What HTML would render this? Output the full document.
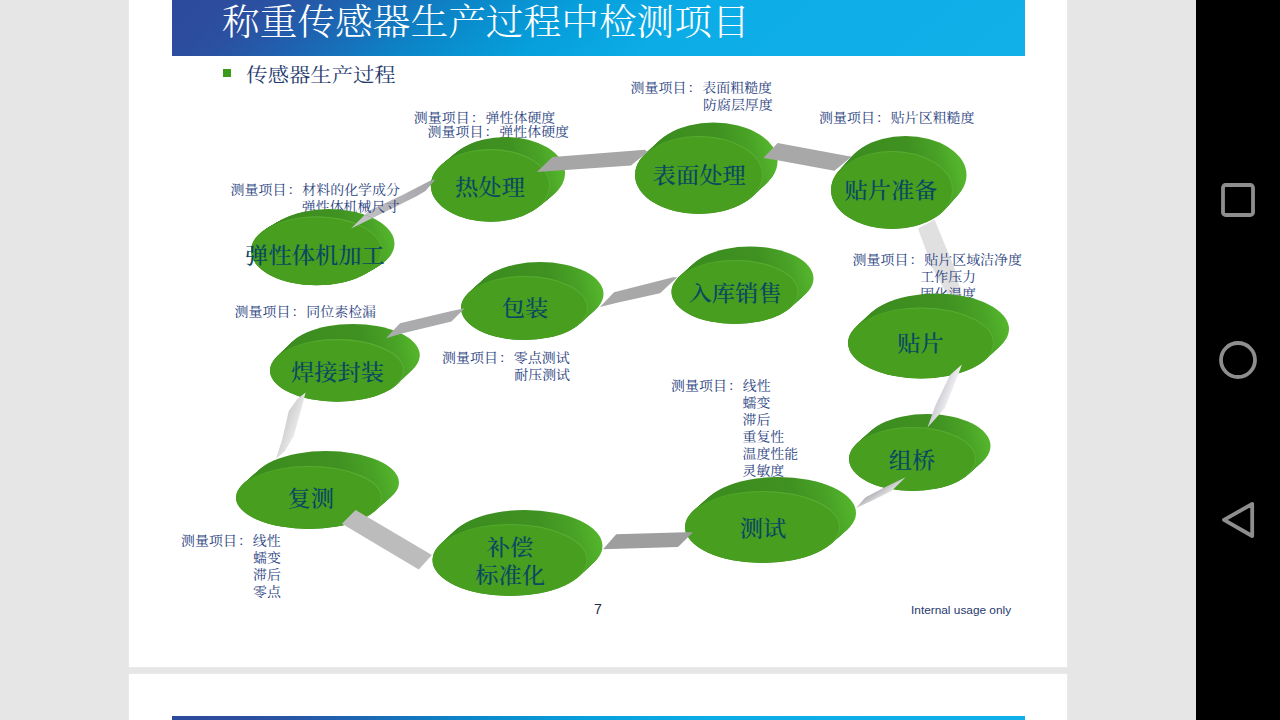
<!DOCTYPE html>
<html lang="zh-CN"><head><meta charset="utf-8"><title>称重传感器生产过程中检测项目</title>
<style>
html,body{margin:0;padding:0}
:root{--sy:0.91}
body{width:1280px;height:720px;overflow:hidden;position:relative;background:#e6e6e6;font-family:"Liberation Serif","Noto Serif CJK SC",serif}
.page{position:absolute;left:129px;top:0;width:938px;height:667px;background:#fff;box-shadow:0 0 1.5px #f4f4f4}
.page2{position:absolute;left:129px;top:674px;width:938px;height:60px;background:#fff;box-shadow:0 0 1.5px #f4f4f4}
.hdr{position:absolute;left:171.5px;top:0;width:853.5px;height:56.4px;background:linear-gradient(140.2deg,#2c4a9c 0%,#2d4c9e 6.3%,#2a52a2 11.8%,#1f62b0 19.2%,#0b86c8 32.2%,#06a0dc 45.2%,#0cace7 58.1%,#12b0e9 100%)}
.hdr2{position:absolute;left:171.5px;top:716px;width:853.5px;height:56.4px;background:linear-gradient(140.2deg,#2c4a9c 0%,#2d4c9e 6.3%,#2a52a2 11.8%,#1f62b0 19.2%,#0b86c8 32.2%,#06a0dc 45.2%,#0cace7 58.1%,#12b0e9 100%)}
.title{transform:scaleY(0.95);position:absolute;left:222px;top:-3.8px;font-size:37.7px;line-height:54px;color:#fff;white-space:nowrap;font-weight:300}
.bullet{position:absolute;left:223px;top:69px;width:8px;height:8px;background:#3a9a1c}
.sub{transform:scaleY(var(--sy));position:absolute;left:246.3px;top:61.6px;font-size:21.35px;line-height:28px;color:#1f3a6e;white-space:nowrap}
.nav{position:absolute;left:1196px;top:0;width:84px;height:720px;background:#000}
.dia{position:absolute;left:0;top:0}
.dl{position:absolute;font-size:23.3px;line-height:30px;height:30px;color:#094862;font-weight:500;white-space:nowrap;transform:translate(-50%,-50%) scaleY(var(--sy))}
.ml{transform:scaleY(var(--sy));position:absolute;font-size:13.95px;line-height:17px;color:#283e7e;white-space:nowrap}
.cg{margin-left:1.2px;margin-right:0.9px}
.pn{position:absolute;left:594px;top:601px;font:14.2px/16px "Liberation Sans",sans-serif;color:#1c2d45}
.iuo{transform:scaleY(0.95);transform-origin:50% 85%;position:absolute;left:911px;top:602.5px;font:11.85px/14px "Liberation Sans",sans-serif;color:#1f3a6e;white-space:nowrap}
</style></head><body>
<div class="page"></div><div class="page2"></div>
<div class="hdr"></div><div class="hdr2"></div>
<div class="title">称重传感器生产过程中检测项目</div>
<div class="bullet"></div><div class="sub">传感器生产过程</div>

<svg class="dia" width="1280" height="720" viewBox="0 0 1280 720">
<polygon points="918,228.5 934.5,219.5 954,267 962,296 948,296 932,267" fill="#e0e0e0"/>
<linearGradient id="ag1" gradientUnits="userSpaceOnUse" x1="351" y1="228" x2="432" y2="181"><stop offset="0" stop-color="#c8c8ca"/><stop offset="1" stop-color="#a4a4aa"/></linearGradient><polygon points="351,228.5 369,210.8 402.5,195 430.6,180.6 435.3,179.6 425.4,191 417,196 387,211" fill="url(#ag1)"/>
</svg>
<div class="ml" style="left:230.60px;top:181.20px">测量项目<span class="cg">：</span>材料的化学成分</div>
<div class="ml" style="left:301.80px;top:198.20px">弹性体机械尺寸</div>
<div class="ml" style="left:413.85px;top:109.30px">测量项目<span class="cg">：</span>弹性体硬度</div>
<div class="ml" style="left:427.60px;top:123.30px">测量项目<span class="cg">：</span>弹性体硬度</div>
<div class="ml" style="left:630.60px;top:78.80px">测量项目<span class="cg">：</span>表面粗糙度</div>
<div class="ml" style="left:703.05px;top:95.80px">防腐层厚度</div>
<div class="ml" style="left:819.10px;top:108.80px">测量项目<span class="cg">：</span>贴片区粗糙度</div>
<div class="ml" style="left:852.60px;top:251.00px">测量项目<span class="cg">：</span>贴片区域洁净度</div>
<div class="ml" style="left:920.30px;top:268.00px">工作压力</div>
<div class="ml" style="left:920.30px;top:285.00px">固化温度</div>
<div class="ml" style="left:234.60px;top:302.80px">测量项目<span class="cg">：</span>同位素检漏</div>
<div class="ml" style="left:442.10px;top:348.80px">测量项目<span class="cg">：</span>零点测试</div>
<div class="ml" style="left:514.30px;top:365.80px">耐压测试</div>
<div class="ml" style="left:671.10px;top:376.80px">测量项目<span class="cg">：</span>线性</div>
<div class="ml" style="left:742.50px;top:393.80px">蠕变</div>
<div class="ml" style="left:742.50px;top:410.80px">滞后</div>
<div class="ml" style="left:742.50px;top:427.80px">重复性</div>
<div class="ml" style="left:742.50px;top:444.80px">温度性能</div>
<div class="ml" style="left:742.50px;top:461.80px">灵敏度</div>
<div class="ml" style="left:181.10px;top:532.40px">测量项目<span class="cg">：</span>线性</div>
<div class="ml" style="left:253.05px;top:549.40px">蠕变</div>
<div class="ml" style="left:253.05px;top:566.40px">滞后</div>
<div class="ml" style="left:253.05px;top:583.40px">零点</div>
<svg class="dia" width="1280" height="720" viewBox="0 0 1280 720">
<linearGradient id="hl" x1="0" y1="1" x2="1" y2="0"><stop offset="0.5" stop-color="#62b63c" stop-opacity="0"/><stop offset="0.72" stop-color="#62b63c" stop-opacity="0.55"/><stop offset="1" stop-color="#62b63c" stop-opacity="0.7"/></linearGradient>
<linearGradient id="gd1" gradientUnits="userSpaceOnUse" x1="251.0" y1="285.3" x2="394.5" y2="249.4"><stop offset="0" stop-color="#3a8a1e"/><stop offset="0.68" stop-color="#3f9121"/><stop offset="0.88" stop-color="#49a326"/><stop offset="1" stop-color="#54b42c"/></linearGradient>
<ellipse cx="329.00" cy="243.60" rx="65.5" ry="34.5" fill="url(#gd1)"/>
<ellipse cx="327.96" cy="244.20" rx="65.5" ry="34.5" fill="url(#gd1)"/>
<ellipse cx="326.92" cy="244.80" rx="65.5" ry="34.5" fill="url(#gd1)"/>
<ellipse cx="325.88" cy="245.40" rx="65.5" ry="34.5" fill="url(#gd1)"/>
<ellipse cx="324.83" cy="246.00" rx="65.5" ry="34.5" fill="url(#gd1)"/>
<ellipse cx="323.79" cy="246.60" rx="65.5" ry="34.5" fill="url(#gd1)"/>
<ellipse cx="322.75" cy="247.20" rx="65.5" ry="34.5" fill="url(#gd1)"/>
<ellipse cx="321.71" cy="247.80" rx="65.5" ry="34.5" fill="url(#gd1)"/>
<ellipse cx="320.67" cy="248.40" rx="65.5" ry="34.5" fill="url(#gd1)"/>
<ellipse cx="319.62" cy="249.00" rx="65.5" ry="34.5" fill="url(#gd1)"/>
<ellipse cx="318.58" cy="249.60" rx="65.5" ry="34.5" fill="url(#gd1)"/>
<ellipse cx="317.54" cy="250.20" rx="65.5" ry="34.5" fill="url(#gd1)"/>
<ellipse cx="316.50" cy="250.80" rx="65.5" ry="34.5" fill="url(#gd1)"/>
<ellipse cx="316.5" cy="250.8" rx="65.5" ry="34.5" fill="#479e1f"/>
<ellipse cx="316.5" cy="250.8" rx="65.0" ry="34.0" fill="none" stroke="url(#hl)" stroke-width="1.2"/>
<linearGradient id="gd2" gradientUnits="userSpaceOnUse" x1="430.8" y1="221.7" x2="565.0" y2="188.1"><stop offset="0" stop-color="#3a8a1e"/><stop offset="0.68" stop-color="#3f9121"/><stop offset="0.88" stop-color="#49a326"/><stop offset="1" stop-color="#54b42c"/></linearGradient>
<ellipse cx="505.40" cy="173.20" rx="59.6" ry="36.3" fill="url(#gd2)"/>
<ellipse cx="504.15" cy="174.22" rx="59.6" ry="36.3" fill="url(#gd2)"/>
<ellipse cx="502.90" cy="175.23" rx="59.6" ry="36.3" fill="url(#gd2)"/>
<ellipse cx="501.65" cy="176.25" rx="59.6" ry="36.3" fill="url(#gd2)"/>
<ellipse cx="500.40" cy="177.27" rx="59.6" ry="36.3" fill="url(#gd2)"/>
<ellipse cx="499.15" cy="178.28" rx="59.6" ry="36.3" fill="url(#gd2)"/>
<ellipse cx="497.90" cy="179.30" rx="59.6" ry="36.3" fill="url(#gd2)"/>
<ellipse cx="496.65" cy="180.32" rx="59.6" ry="36.3" fill="url(#gd2)"/>
<ellipse cx="495.40" cy="181.33" rx="59.6" ry="36.3" fill="url(#gd2)"/>
<ellipse cx="494.15" cy="182.35" rx="59.6" ry="36.3" fill="url(#gd2)"/>
<ellipse cx="492.90" cy="183.37" rx="59.6" ry="36.3" fill="url(#gd2)"/>
<ellipse cx="491.65" cy="184.38" rx="59.6" ry="36.3" fill="url(#gd2)"/>
<ellipse cx="490.40" cy="185.40" rx="59.6" ry="36.3" fill="url(#gd2)"/>
<ellipse cx="490.4" cy="185.4" rx="59.6" ry="36.3" fill="#479e1f"/>
<ellipse cx="490.4" cy="185.4" rx="59.1" ry="35.8" fill="none" stroke="url(#hl)" stroke-width="1.2"/>
<linearGradient id="gd3" gradientUnits="userSpaceOnUse" x1="635.0" y1="214.0" x2="777.5" y2="178.4"><stop offset="0" stop-color="#3a8a1e"/><stop offset="0.68" stop-color="#3f9121"/><stop offset="0.88" stop-color="#49a326"/><stop offset="1" stop-color="#54b42c"/></linearGradient>
<ellipse cx="713.50" cy="161.50" rx="64" ry="39" fill="url(#gd3)"/>
<ellipse cx="712.29" cy="162.62" rx="64" ry="39" fill="url(#gd3)"/>
<ellipse cx="711.08" cy="163.75" rx="64" ry="39" fill="url(#gd3)"/>
<ellipse cx="709.88" cy="164.88" rx="64" ry="39" fill="url(#gd3)"/>
<ellipse cx="708.67" cy="166.00" rx="64" ry="39" fill="url(#gd3)"/>
<ellipse cx="707.46" cy="167.12" rx="64" ry="39" fill="url(#gd3)"/>
<ellipse cx="706.25" cy="168.25" rx="64" ry="39" fill="url(#gd3)"/>
<ellipse cx="705.04" cy="169.38" rx="64" ry="39" fill="url(#gd3)"/>
<ellipse cx="703.83" cy="170.50" rx="64" ry="39" fill="url(#gd3)"/>
<ellipse cx="702.62" cy="171.62" rx="64" ry="39" fill="url(#gd3)"/>
<ellipse cx="701.42" cy="172.75" rx="64" ry="39" fill="url(#gd3)"/>
<ellipse cx="700.21" cy="173.88" rx="64" ry="39" fill="url(#gd3)"/>
<ellipse cx="699.00" cy="175.00" rx="64" ry="39" fill="url(#gd3)"/>
<ellipse cx="699" cy="175" rx="64" ry="39" fill="#479e1f"/>
<ellipse cx="699" cy="175" rx="63.5" ry="38.5" fill="none" stroke="url(#hl)" stroke-width="1.2"/>
<linearGradient id="gd4" gradientUnits="userSpaceOnUse" x1="831.0" y1="229.0" x2="966.5" y2="195.1"><stop offset="0" stop-color="#3a8a1e"/><stop offset="0.68" stop-color="#3f9121"/><stop offset="0.88" stop-color="#49a326"/><stop offset="1" stop-color="#54b42c"/></linearGradient>
<ellipse cx="905.50" cy="175.00" rx="61" ry="39" fill="url(#gd4)"/>
<ellipse cx="904.38" cy="176.25" rx="61" ry="39" fill="url(#gd4)"/>
<ellipse cx="903.25" cy="177.50" rx="61" ry="39" fill="url(#gd4)"/>
<ellipse cx="902.12" cy="178.75" rx="61" ry="39" fill="url(#gd4)"/>
<ellipse cx="901.00" cy="180.00" rx="61" ry="39" fill="url(#gd4)"/>
<ellipse cx="899.88" cy="181.25" rx="61" ry="39" fill="url(#gd4)"/>
<ellipse cx="898.75" cy="182.50" rx="61" ry="39" fill="url(#gd4)"/>
<ellipse cx="897.62" cy="183.75" rx="61" ry="39" fill="url(#gd4)"/>
<ellipse cx="896.50" cy="185.00" rx="61" ry="39" fill="url(#gd4)"/>
<ellipse cx="895.38" cy="186.25" rx="61" ry="39" fill="url(#gd4)"/>
<ellipse cx="894.25" cy="187.50" rx="61" ry="39" fill="url(#gd4)"/>
<ellipse cx="893.12" cy="188.75" rx="61" ry="39" fill="url(#gd4)"/>
<ellipse cx="892.00" cy="190.00" rx="61" ry="39" fill="url(#gd4)"/>
<ellipse cx="892" cy="190" rx="61" ry="39" fill="#479e1f"/>
<ellipse cx="892" cy="190" rx="60.5" ry="38.5" fill="none" stroke="url(#hl)" stroke-width="1.2"/>
<linearGradient id="gd5" gradientUnits="userSpaceOnUse" x1="848.0" y1="378.5" x2="1009.0" y2="338.2"><stop offset="0" stop-color="#3a8a1e"/><stop offset="0.68" stop-color="#3f9121"/><stop offset="0.88" stop-color="#49a326"/><stop offset="1" stop-color="#54b42c"/></linearGradient>
<ellipse cx="936.00" cy="329.00" rx="73" ry="35.5" fill="url(#gd5)"/>
<ellipse cx="934.75" cy="330.17" rx="73" ry="35.5" fill="url(#gd5)"/>
<ellipse cx="933.50" cy="331.33" rx="73" ry="35.5" fill="url(#gd5)"/>
<ellipse cx="932.25" cy="332.50" rx="73" ry="35.5" fill="url(#gd5)"/>
<ellipse cx="931.00" cy="333.67" rx="73" ry="35.5" fill="url(#gd5)"/>
<ellipse cx="929.75" cy="334.83" rx="73" ry="35.5" fill="url(#gd5)"/>
<ellipse cx="928.50" cy="336.00" rx="73" ry="35.5" fill="url(#gd5)"/>
<ellipse cx="927.25" cy="337.17" rx="73" ry="35.5" fill="url(#gd5)"/>
<ellipse cx="926.00" cy="338.33" rx="73" ry="35.5" fill="url(#gd5)"/>
<ellipse cx="924.75" cy="339.50" rx="73" ry="35.5" fill="url(#gd5)"/>
<ellipse cx="923.50" cy="340.67" rx="73" ry="35.5" fill="url(#gd5)"/>
<ellipse cx="922.25" cy="341.83" rx="73" ry="35.5" fill="url(#gd5)"/>
<ellipse cx="921.00" cy="343.00" rx="73" ry="35.5" fill="url(#gd5)"/>
<ellipse cx="921" cy="343" rx="73" ry="35.5" fill="#479e1f"/>
<ellipse cx="921" cy="343" rx="72.5" ry="35.0" fill="none" stroke="url(#hl)" stroke-width="1.2"/>
<linearGradient id="gd6" gradientUnits="userSpaceOnUse" x1="849.0" y1="491.0" x2="990.5" y2="455.6"><stop offset="0" stop-color="#3a8a1e"/><stop offset="0.68" stop-color="#3f9121"/><stop offset="0.88" stop-color="#49a326"/><stop offset="1" stop-color="#54b42c"/></linearGradient>
<ellipse cx="927.00" cy="446.00" rx="63.5" ry="32" fill="url(#gd6)"/>
<ellipse cx="925.79" cy="447.08" rx="63.5" ry="32" fill="url(#gd6)"/>
<ellipse cx="924.58" cy="448.17" rx="63.5" ry="32" fill="url(#gd6)"/>
<ellipse cx="923.38" cy="449.25" rx="63.5" ry="32" fill="url(#gd6)"/>
<ellipse cx="922.17" cy="450.33" rx="63.5" ry="32" fill="url(#gd6)"/>
<ellipse cx="920.96" cy="451.42" rx="63.5" ry="32" fill="url(#gd6)"/>
<ellipse cx="919.75" cy="452.50" rx="63.5" ry="32" fill="url(#gd6)"/>
<ellipse cx="918.54" cy="453.58" rx="63.5" ry="32" fill="url(#gd6)"/>
<ellipse cx="917.33" cy="454.67" rx="63.5" ry="32" fill="url(#gd6)"/>
<ellipse cx="916.12" cy="455.75" rx="63.5" ry="32" fill="url(#gd6)"/>
<ellipse cx="914.92" cy="456.83" rx="63.5" ry="32" fill="url(#gd6)"/>
<ellipse cx="913.71" cy="457.92" rx="63.5" ry="32" fill="url(#gd6)"/>
<ellipse cx="912.50" cy="459.00" rx="63.5" ry="32" fill="url(#gd6)"/>
<ellipse cx="912.5" cy="459" rx="63.5" ry="32" fill="#479e1f"/>
<ellipse cx="912.5" cy="459" rx="63.0" ry="31.5" fill="none" stroke="url(#hl)" stroke-width="1.2"/>
<linearGradient id="gd7" gradientUnits="userSpaceOnUse" x1="685.0" y1="563.0" x2="856.0" y2="520.2"><stop offset="0" stop-color="#3a8a1e"/><stop offset="0.68" stop-color="#3f9121"/><stop offset="0.88" stop-color="#49a326"/><stop offset="1" stop-color="#54b42c"/></linearGradient>
<ellipse cx="778.50" cy="513.00" rx="77.5" ry="36" fill="url(#gd7)"/>
<ellipse cx="777.17" cy="514.17" rx="77.5" ry="36" fill="url(#gd7)"/>
<ellipse cx="775.83" cy="515.33" rx="77.5" ry="36" fill="url(#gd7)"/>
<ellipse cx="774.50" cy="516.50" rx="77.5" ry="36" fill="url(#gd7)"/>
<ellipse cx="773.17" cy="517.67" rx="77.5" ry="36" fill="url(#gd7)"/>
<ellipse cx="771.83" cy="518.83" rx="77.5" ry="36" fill="url(#gd7)"/>
<ellipse cx="770.50" cy="520.00" rx="77.5" ry="36" fill="url(#gd7)"/>
<ellipse cx="769.17" cy="521.17" rx="77.5" ry="36" fill="url(#gd7)"/>
<ellipse cx="767.83" cy="522.33" rx="77.5" ry="36" fill="url(#gd7)"/>
<ellipse cx="766.50" cy="523.50" rx="77.5" ry="36" fill="url(#gd7)"/>
<ellipse cx="765.17" cy="524.67" rx="77.5" ry="36" fill="url(#gd7)"/>
<ellipse cx="763.83" cy="525.83" rx="77.5" ry="36" fill="url(#gd7)"/>
<ellipse cx="762.50" cy="527.00" rx="77.5" ry="36" fill="url(#gd7)"/>
<ellipse cx="762.5" cy="527" rx="77.5" ry="36" fill="#479e1f"/>
<ellipse cx="762.5" cy="527" rx="77.0" ry="35.5" fill="none" stroke="url(#hl)" stroke-width="1.2"/>
<linearGradient id="gd8" gradientUnits="userSpaceOnUse" x1="432.5" y1="596.0" x2="602.5" y2="553.5"><stop offset="0" stop-color="#3a8a1e"/><stop offset="0.68" stop-color="#3f9121"/><stop offset="0.88" stop-color="#49a326"/><stop offset="1" stop-color="#54b42c"/></linearGradient>
<ellipse cx="525.00" cy="546.00" rx="77.5" ry="36" fill="url(#gd8)"/>
<ellipse cx="523.75" cy="547.17" rx="77.5" ry="36" fill="url(#gd8)"/>
<ellipse cx="522.50" cy="548.33" rx="77.5" ry="36" fill="url(#gd8)"/>
<ellipse cx="521.25" cy="549.50" rx="77.5" ry="36" fill="url(#gd8)"/>
<ellipse cx="520.00" cy="550.67" rx="77.5" ry="36" fill="url(#gd8)"/>
<ellipse cx="518.75" cy="551.83" rx="77.5" ry="36" fill="url(#gd8)"/>
<ellipse cx="517.50" cy="553.00" rx="77.5" ry="36" fill="url(#gd8)"/>
<ellipse cx="516.25" cy="554.17" rx="77.5" ry="36" fill="url(#gd8)"/>
<ellipse cx="515.00" cy="555.33" rx="77.5" ry="36" fill="url(#gd8)"/>
<ellipse cx="513.75" cy="556.50" rx="77.5" ry="36" fill="url(#gd8)"/>
<ellipse cx="512.50" cy="557.67" rx="77.5" ry="36" fill="url(#gd8)"/>
<ellipse cx="511.25" cy="558.83" rx="77.5" ry="36" fill="url(#gd8)"/>
<ellipse cx="510.00" cy="560.00" rx="77.5" ry="36" fill="url(#gd8)"/>
<ellipse cx="510" cy="560" rx="77.5" ry="36" fill="#479e1f"/>
<ellipse cx="510" cy="560" rx="77.0" ry="35.5" fill="none" stroke="url(#hl)" stroke-width="1.2"/>
<linearGradient id="gd9" gradientUnits="userSpaceOnUse" x1="236.0" y1="529.0" x2="399.0" y2="488.2"><stop offset="0" stop-color="#3a8a1e"/><stop offset="0.68" stop-color="#3f9121"/><stop offset="0.88" stop-color="#49a326"/><stop offset="1" stop-color="#54b42c"/></linearGradient>
<ellipse cx="326.00" cy="482.50" rx="73" ry="31.5" fill="url(#gd9)"/>
<ellipse cx="324.58" cy="483.75" rx="73" ry="31.5" fill="url(#gd9)"/>
<ellipse cx="323.17" cy="485.00" rx="73" ry="31.5" fill="url(#gd9)"/>
<ellipse cx="321.75" cy="486.25" rx="73" ry="31.5" fill="url(#gd9)"/>
<ellipse cx="320.33" cy="487.50" rx="73" ry="31.5" fill="url(#gd9)"/>
<ellipse cx="318.92" cy="488.75" rx="73" ry="31.5" fill="url(#gd9)"/>
<ellipse cx="317.50" cy="490.00" rx="73" ry="31.5" fill="url(#gd9)"/>
<ellipse cx="316.08" cy="491.25" rx="73" ry="31.5" fill="url(#gd9)"/>
<ellipse cx="314.67" cy="492.50" rx="73" ry="31.5" fill="url(#gd9)"/>
<ellipse cx="313.25" cy="493.75" rx="73" ry="31.5" fill="url(#gd9)"/>
<ellipse cx="311.83" cy="495.00" rx="73" ry="31.5" fill="url(#gd9)"/>
<ellipse cx="310.42" cy="496.25" rx="73" ry="31.5" fill="url(#gd9)"/>
<ellipse cx="309.00" cy="497.50" rx="73" ry="31.5" fill="url(#gd9)"/>
<ellipse cx="309" cy="497.5" rx="73" ry="31.5" fill="#479e1f"/>
<ellipse cx="309" cy="497.5" rx="72.5" ry="31.0" fill="none" stroke="url(#hl)" stroke-width="1.2"/>
<linearGradient id="gd10" gradientUnits="userSpaceOnUse" x1="270.0" y1="401.7" x2="419.8" y2="364.2"><stop offset="0" stop-color="#3a8a1e"/><stop offset="0.68" stop-color="#3f9121"/><stop offset="0.88" stop-color="#49a326"/><stop offset="1" stop-color="#54b42c"/></linearGradient>
<ellipse cx="352.80" cy="355.20" rx="67" ry="31.3" fill="url(#gd10)"/>
<ellipse cx="351.48" cy="356.47" rx="67" ry="31.3" fill="url(#gd10)"/>
<ellipse cx="350.17" cy="357.73" rx="67" ry="31.3" fill="url(#gd10)"/>
<ellipse cx="348.85" cy="359.00" rx="67" ry="31.3" fill="url(#gd10)"/>
<ellipse cx="347.53" cy="360.27" rx="67" ry="31.3" fill="url(#gd10)"/>
<ellipse cx="346.22" cy="361.53" rx="67" ry="31.3" fill="url(#gd10)"/>
<ellipse cx="344.90" cy="362.80" rx="67" ry="31.3" fill="url(#gd10)"/>
<ellipse cx="343.58" cy="364.07" rx="67" ry="31.3" fill="url(#gd10)"/>
<ellipse cx="342.27" cy="365.33" rx="67" ry="31.3" fill="url(#gd10)"/>
<ellipse cx="340.95" cy="366.60" rx="67" ry="31.3" fill="url(#gd10)"/>
<ellipse cx="339.63" cy="367.87" rx="67" ry="31.3" fill="url(#gd10)"/>
<ellipse cx="338.32" cy="369.13" rx="67" ry="31.3" fill="url(#gd10)"/>
<ellipse cx="337.00" cy="370.40" rx="67" ry="31.3" fill="url(#gd10)"/>
<ellipse cx="337" cy="370.4" rx="67" ry="31.3" fill="#479e1f"/>
<ellipse cx="337" cy="370.4" rx="66.5" ry="30.8" fill="none" stroke="url(#hl)" stroke-width="1.2"/>
<linearGradient id="gd11" gradientUnits="userSpaceOnUse" x1="461.0" y1="340.0" x2="603.5" y2="304.4"><stop offset="0" stop-color="#3a8a1e"/><stop offset="0.68" stop-color="#3f9121"/><stop offset="0.88" stop-color="#49a326"/><stop offset="1" stop-color="#54b42c"/></linearGradient>
<ellipse cx="540.00" cy="294.00" rx="63.5" ry="32" fill="url(#gd11)"/>
<ellipse cx="538.71" cy="295.17" rx="63.5" ry="32" fill="url(#gd11)"/>
<ellipse cx="537.42" cy="296.33" rx="63.5" ry="32" fill="url(#gd11)"/>
<ellipse cx="536.12" cy="297.50" rx="63.5" ry="32" fill="url(#gd11)"/>
<ellipse cx="534.83" cy="298.67" rx="63.5" ry="32" fill="url(#gd11)"/>
<ellipse cx="533.54" cy="299.83" rx="63.5" ry="32" fill="url(#gd11)"/>
<ellipse cx="532.25" cy="301.00" rx="63.5" ry="32" fill="url(#gd11)"/>
<ellipse cx="530.96" cy="302.17" rx="63.5" ry="32" fill="url(#gd11)"/>
<ellipse cx="529.67" cy="303.33" rx="63.5" ry="32" fill="url(#gd11)"/>
<ellipse cx="528.38" cy="304.50" rx="63.5" ry="32" fill="url(#gd11)"/>
<ellipse cx="527.08" cy="305.67" rx="63.5" ry="32" fill="url(#gd11)"/>
<ellipse cx="525.79" cy="306.83" rx="63.5" ry="32" fill="url(#gd11)"/>
<ellipse cx="524.50" cy="308.00" rx="63.5" ry="32" fill="url(#gd11)"/>
<ellipse cx="524.5" cy="308" rx="63.5" ry="32" fill="#479e1f"/>
<ellipse cx="524.5" cy="308" rx="63.0" ry="31.5" fill="none" stroke="url(#hl)" stroke-width="1.2"/>
<linearGradient id="gd12" gradientUnits="userSpaceOnUse" x1="671.5" y1="324.0" x2="813.5" y2="288.5"><stop offset="0" stop-color="#3a8a1e"/><stop offset="0.68" stop-color="#3f9121"/><stop offset="0.88" stop-color="#49a326"/><stop offset="1" stop-color="#54b42c"/></linearGradient>
<ellipse cx="750.00" cy="278.50" rx="63.5" ry="32" fill="url(#gd12)"/>
<ellipse cx="748.75" cy="279.62" rx="63.5" ry="32" fill="url(#gd12)"/>
<ellipse cx="747.50" cy="280.75" rx="63.5" ry="32" fill="url(#gd12)"/>
<ellipse cx="746.25" cy="281.88" rx="63.5" ry="32" fill="url(#gd12)"/>
<ellipse cx="745.00" cy="283.00" rx="63.5" ry="32" fill="url(#gd12)"/>
<ellipse cx="743.75" cy="284.12" rx="63.5" ry="32" fill="url(#gd12)"/>
<ellipse cx="742.50" cy="285.25" rx="63.5" ry="32" fill="url(#gd12)"/>
<ellipse cx="741.25" cy="286.38" rx="63.5" ry="32" fill="url(#gd12)"/>
<ellipse cx="740.00" cy="287.50" rx="63.5" ry="32" fill="url(#gd12)"/>
<ellipse cx="738.75" cy="288.62" rx="63.5" ry="32" fill="url(#gd12)"/>
<ellipse cx="737.50" cy="289.75" rx="63.5" ry="32" fill="url(#gd12)"/>
<ellipse cx="736.25" cy="290.88" rx="63.5" ry="32" fill="url(#gd12)"/>
<ellipse cx="735.00" cy="292.00" rx="63.5" ry="32" fill="url(#gd12)"/>
<ellipse cx="735" cy="292" rx="63.5" ry="32" fill="#479e1f"/>
<ellipse cx="735" cy="292" rx="63.0" ry="31.5" fill="none" stroke="url(#hl)" stroke-width="1.2"/>
<polygon points="536.9,172 552.5,156.9 645,149.75 647.5,151.9 631,165.6" fill="#a6a6a6"/>
<polygon points="763.5,158.1 777.6,143 849,156.25 852,156.5 834.4,170.8 776,160" fill="#a9a8a9"/>
<polygon points="600,306.9 614,292.3 673.1,277.3 677.3,277.3 660,293.3 616,303.1" fill="#a8a8a8"/>
<polygon points="386,338.3 400,323.3 451.5,311 464.7,308.3 451.5,321.4 401.9,333.6" fill="#ababad"/>
<linearGradient id="ag2" gradientUnits="userSpaceOnUse" x1="284" y1="425" x2="298" y2="430"><stop offset="0" stop-color="#d0d0d0"/><stop offset="1" stop-color="#ececec"/></linearGradient><polygon points="305.6,392.5 303,402.5 293.75,436 285,451 276,458.75 282,440 288.75,411 297.5,398.75" fill="url(#ag2)"/>
<polygon points="355.6,510 341.9,523.75 418.75,569.4 431.9,555" fill="#bcbcbc"/>
<polygon points="603,549.2 616.2,534.2 684.7,532.3 693,532.3 678,546.9" fill="#9e9e9e"/>
<linearGradient id="ag3" gradientUnits="userSpaceOnUse" x1="876" y1="489" x2="882" y2="498"><stop offset="0" stop-color="#acacb1"/><stop offset="1" stop-color="#e4e4e6"/></linearGradient><polygon points="905.6,477.3 882.8,488.2 865.3,497.4 856,508.1 872,500.8 891.5,491" fill="url(#ag3)"/>
<linearGradient id="ag4" gradientUnits="userSpaceOnUse" x1="940" y1="392" x2="951" y2="396"><stop offset="0" stop-color="#cdcdd4"/><stop offset="1" stop-color="#f0f0f4"/></linearGradient><polygon points="961.9,364.4 958,375 945,408 927.5,427.5 935.6,405 950,375" fill="url(#ag4)"/>
<clipPath id="c12"><ellipse cx="329.00" cy="243.60" rx="65.5" ry="34.5"/><ellipse cx="326.92" cy="244.80" rx="65.5" ry="34.5"/><ellipse cx="324.83" cy="246.00" rx="65.5" ry="34.5"/><ellipse cx="322.75" cy="247.20" rx="65.5" ry="34.5"/><ellipse cx="320.67" cy="248.40" rx="65.5" ry="34.5"/><ellipse cx="318.58" cy="249.60" rx="65.5" ry="34.5"/><ellipse cx="316.50" cy="250.80" rx="65.5" ry="34.5"/><ellipse cx="505.40" cy="173.20" rx="59.6" ry="36.3"/><ellipse cx="502.90" cy="175.23" rx="59.6" ry="36.3"/><ellipse cx="500.40" cy="177.27" rx="59.6" ry="36.3"/><ellipse cx="497.90" cy="179.30" rx="59.6" ry="36.3"/><ellipse cx="495.40" cy="181.33" rx="59.6" ry="36.3"/><ellipse cx="492.90" cy="183.37" rx="59.6" ry="36.3"/><ellipse cx="490.40" cy="185.40" rx="59.6" ry="36.3"/></clipPath>
<linearGradient id="ag5" gradientUnits="userSpaceOnUse" x1="351" y1="228" x2="432" y2="181"><stop offset="0" stop-color="#c8c8ca"/><stop offset="1" stop-color="#a4a4aa"/></linearGradient><polygon points="351,228.5 369,210.8 402.5,195 430.6,180.6 435.3,179.6 425.4,191 417,196 387,211" fill="url(#ag5)" clip-path="url(#c12)"/>
</svg>
<div class="dl" style="left:315px;top:256.10px">弹性体机加工</div>
<div class="dl" style="left:490px;top:187.80px">热处理</div>
<div class="dl" style="left:699.2px;top:176.30px">表面处理</div>
<div class="dl" style="left:891px;top:191.30px">贴片准备</div>
<div class="dl" style="left:920.6px;top:344.30px">贴片</div>
<div class="dl" style="left:912px;top:461.30px">组桥</div>
<div class="dl" style="left:763px;top:528.80px">测试</div>
<div class="dl" style="left:510px;top:547.50px">补偿</div>
<div class="dl" style="left:510.2px;top:575.80px">标准化</div>
<div class="dl" style="left:310.7px;top:498.80px">复测</div>
<div class="dl" style="left:337.5px;top:372.50px">焊接封装</div>
<div class="dl" style="left:525px;top:309.30px">包装</div>
<div class="dl" style="left:735.1px;top:293.80px">入库销售</div>
<div class="pn">7</div><div class="iuo">Internal usage only</div>
<div class="nav">
<svg width="84" height="720" viewBox="0 0 84 720" fill="none" stroke="#8e8e8e" stroke-width="3.8">
<rect x="27" y="185" width="30" height="30" rx="2.6"/>
<circle cx="42" cy="360" r="17"/>
<path d="M56.2 504 L56.2 536 L28 519.8 Z" stroke-linejoin="round"/>
</svg></div>
</body></html>
